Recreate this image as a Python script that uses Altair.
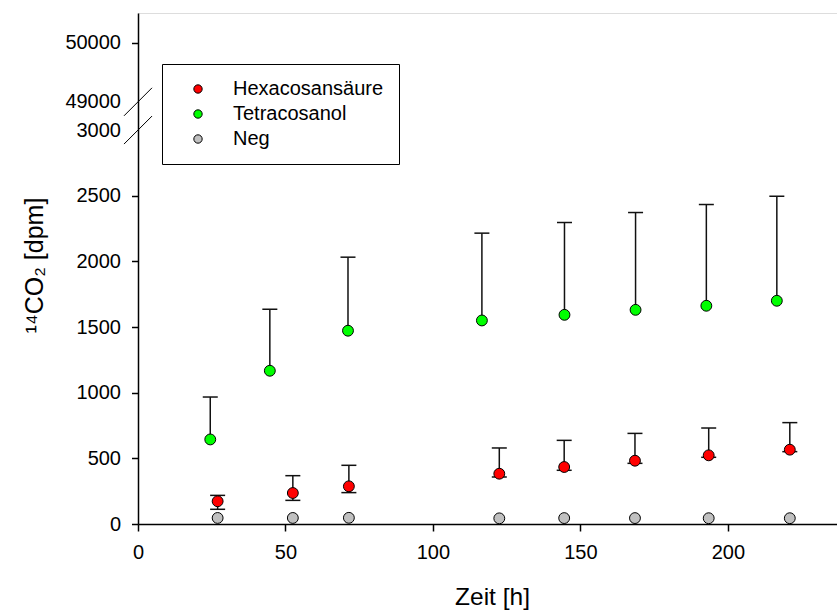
import altair as alt
import pandas as pd

# ---------------- data ----------------
series_names = ["Hexacosansäure", "Tetracosanol", "Neg"]
series_colors = ["#ff0000", "#00ff00", "#c0c0c0"]

hex_x = [27, 52.5, 71.5, 122.5, 144.5, 168.5, 193.5, 221]
hex_y = [173, 236, 287, 383, 434, 482, 523, 566]
hex_hi = [218, 368, 447, 579, 637, 690, 731, 772]
hex_lo = [112, 180, 239, 358, 409, 462, 508, 551]

tet_x = [24.5, 44.7, 71.2, 116.6, 144.6, 168.7, 192.7, 216.6]
tet_y = [644, 1167, 1472, 1550, 1593, 1631, 1662, 1700]
tet_hi = [967, 1636, 2032, 2215, 2296, 2372, 2433, 2496]

neg_x = [27, 52.5, 71.5, 122.5, 144.5, 168.5, 193.5, 221]
neg_y = [46, 46, 47, 43, 45, 45, 44, 44]

x_ticks = [0, 50, 100, 150, 200]
y_ticks = [0, 500, 1000, 1500, 2000, 2500, 3000, 49000, 50000]
y_tick_labels = ["0", "500", "1000", "1500", "2000", "2500", "3000", "49000", "50000"]

# broken axis: lower part 0..3000, upper part 49000..50500
LOWER_MAX = 3000
UPPER_MIN = 49000
UPPER_MAX = 50500
GAP = 215
UPPER_K = 0.451


def to_pos(v):
    if v <= LOWER_MAX:
        return v
    return LOWER_MAX + GAP + (v - UPPER_MIN) * UPPER_K


rows = []
for name, xs, ys, his, los in [
    (series_names[0], hex_x, hex_y, hex_hi, hex_lo),
    (series_names[1], tet_x, tet_y, tet_hi, tet_y),
    (series_names[2], neg_x, neg_y, neg_y, neg_y),
]:
    for x, y, hi, lo in zip(xs, ys, his, los):
        rows.append({"series": name, "x": x, "y": to_pos(y),
                     "hi": to_pos(hi), "lo": to_pos(lo)})
df = pd.DataFrame(rows)

breaks = pd.DataFrame({"y": [to_pos(LOWER_MAX), to_pos(UPPER_MIN)]})

tick_pos = [to_pos(v) for v in y_ticks]
label_expr = "''"
for p, lab in reversed(list(zip(tick_pos, y_tick_labels))):
    label_expr = f"abs(datum.value - {p}) < 1 ? '{lab}' : ({label_expr})"

hidden_lo = to_pos(LOWER_MAX) - 1
hidden_hi = to_pos(UPPER_MIN) + 1

FONT = "Liberation Sans"

x_enc = alt.X(
    "x:Q",
    scale=alt.Scale(domain=[0, 237], nice=False, zero=False),
    axis=alt.Axis(
        values=x_ticks, grid=False, title="Zeit [h]", format="d",
        domainColor="black", domainWidth=1.5,
        tickColor="black", tickWidth=1.5, tickSize=7,
        labelFontSize=20, labelPadding=11, labelColor="black", labelFlush=False,
        labelFont=FONT,
        titleFontSize=24.5, titleFont=FONT, titleFontWeight="normal", titleColor="black",
        titleX=354, titleY=80, titleAlign="center", titleBaseline="alphabetic",
    ),
)

y_enc = alt.Y(
    "y:Q",
    scale=alt.Scale(domain=[0, to_pos(UPPER_MAX)], nice=False, zero=False),
    axis=alt.Axis(
        values=tick_pos, labelExpr=label_expr, grid=False, title="¹⁴CO₂ [dpm]",
        domainColor="black", domainWidth=1.5,
        tickColor="black", tickWidth=1.5, tickSize=6.5,
        tickOpacity={"condition": {"test": f"datum.value > {hidden_lo} && datum.value < {hidden_hi}", "value": 0}, "value": 1},
        labelFontSize=20, labelPadding=11, labelColor="black", labelFlush=False,
        labelOverlap=False, labelFont=FONT,
        titleFontSize=25, titleFont=FONT, titleFontWeight="normal", titleColor="black",
        titleAngle=270, titleX=-96, titleY=252, titleAlign="center", titleBaseline="alphabetic",
    ),
)

base = alt.Chart(df)

upper_bars = base.transform_filter("datum.hi > datum.y").mark_rule(
    color="#111", strokeWidth=1.5
).encode(x=x_enc, y=y_enc, y2="hi:Q")

lower_bars = base.transform_filter("datum.lo < datum.y").mark_rule(
    color="#111", strokeWidth=1.5
).encode(x=x_enc, y=y_enc, y2="lo:Q")

upper_caps = base.transform_filter("datum.hi > datum.y").mark_tick(
    orient="horizontal", size=15, thickness=1.5, color="#111", opacity=1
).encode(x=x_enc, y=alt.Y("hi:Q", scale=alt.Scale(domain=[0, to_pos(UPPER_MAX)], nice=False, zero=False)))

lower_caps = base.transform_filter("datum.lo < datum.y").mark_tick(
    orient="horizontal", size=15, thickness=1.5, color="#111", opacity=1
).encode(x=x_enc, y=alt.Y("lo:Q", scale=alt.Scale(domain=[0, to_pos(UPPER_MAX)], nice=False, zero=False)))

points = base.mark_point(
    filled=True, size=118, stroke="black", strokeWidth=1, opacity=1
).encode(
    x=x_enc,
    y=y_enc,
    color=alt.Color(
        "series:N",
        scale=alt.Scale(domain=series_names, range=series_colors),
        sort=series_names,
        legend=alt.Legend(
            title=None, orient="none", legendX=24, legendY=51,
            strokeColor="black", fillColor="white", padding=15,
            rowPadding=5, symbolOffset=11, labelOffset=25,
            symbolType="circle", symbolSize=70,
            symbolStrokeColor="black", symbolStrokeWidth=1,
            labelFontSize=20, labelFont=FONT, labelColor="black",
        ),
    ),
)

slashes = alt.Chart(breaks).mark_rule(
    color="black", strokeWidth=1, yOffset=14, y2Offset=-14
).encode(
    x=alt.value(-14), x2=alt.value(14), y=y_enc, y2="y:Q"
)

chart = alt.layer(upper_bars, lower_bars, upper_caps, lower_caps, points, slashes).properties(
    width=699, height=511,
    autosize=alt.AutoSizeParams(type="none"),
    padding={"left": 138, "top": 13, "right": 0, "bottom": 86},
    background="white",
).configure_view(strokeWidth=0).configure_legend(strokeWidth=1.5).configure(font=FONT)

chart.save("out.html", embed_options={"renderer": "svg", "actions": False})
